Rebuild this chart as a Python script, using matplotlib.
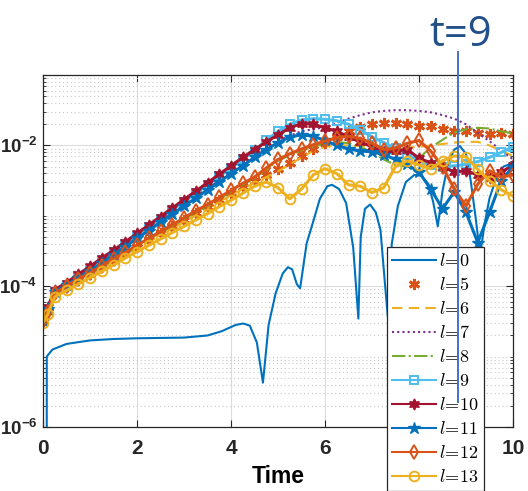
"""
Mode amplitudes vs time on a log axis, MATLAB-style look.
"""
import numpy as np
import matplotlib
matplotlib.use("Agg")
import matplotlib.pyplot as plt
from matplotlib.lines import Line2D

plt.rcParams["mathtext.fontset"] = "custom"
plt.rcParams["mathtext.rm"] = "Liberation Sans:bold"
plt.rcParams["mathtext.bf"] = "Liberation Sans:bold"

# sample times for the marked modes
t = np.concatenate(([0.0, 0.1], np.arange(0.25, 10.01, 0.25)))

# log10 of amplitude
log_l5 = [-4.5, -4.35, -4.1, -4.0, -3.91, -3.82, -3.72, -3.63, -3.53, -3.44, -3.34, -3.25,
          -3.15, -3.06, -2.96, -2.87, -2.77, -2.68, -2.59, -2.5, -2.42, -2.34, -2.25, -2.15,
          -2.05, -1.96, -1.88, -1.8, -1.74, -1.7, -1.68, -1.68, -1.7, -1.72, -1.73, -1.76,
          -1.79, -1.8, -1.82, -1.84, -1.83, -1.84]
log_l6 = [-4.5, -4.37, -4.13, -4.03, -3.94, -3.85, -3.75, -3.66, -3.56, -3.47, -3.37, -3.28,
          -3.18, -3.09, -2.99, -2.9, -2.8, -2.71, -2.62, -2.53, -2.45, -2.37, -2.27, -2.17,
          -2.08, -2.02, -2.0, -2.0, -2.01, -2.02, -2.03, -2.04, -2.03, -2.02, -2.0, -1.98,
          -1.96, -1.95, -1.95, -2.0, -2.08, -2.15]
log_l7 = [-4.5, -4.32, -4.07, -3.97, -3.87, -3.76, -3.65, -3.53, -3.42, -3.3, -3.19, -3.07,
          -2.96, -2.84, -2.73, -2.61, -2.5, -2.38, -2.27, -2.15, -2.04, -1.94, -1.86, -1.8,
          -1.77, -1.74, -1.68, -1.62, -1.57, -1.53, -1.51, -1.5, -1.5, -1.51, -1.53, -1.57,
          -1.62, -1.7, -1.82, -1.94, -2.07, -2.2]
log_l8 = [-4.5, -4.37, -4.12, -4.02, -3.92, -3.83, -3.73, -3.63, -3.54, -3.44, -3.34, -3.24,
          -3.15, -3.05, -2.95, -2.86, -2.76, -2.66, -2.56, -2.47, -2.34, -2.22, -2.14, -2.07,
          -2.02, -1.97, -1.95, -1.97, -2.02, -2.1, -2.2, -2.28, -2.3, -2.18, -2.03, -1.92,
          -1.82, -1.77, -1.75, -1.76, -1.8, -1.83]
log_l9 = [-4.5, -4.32, -4.08, -3.98, -3.86, -3.75, -3.63, -3.52, -3.4, -3.28, -3.16, -3.04,
          -2.92, -2.8, -2.68, -2.56, -2.44, -2.32, -2.2, -2.07, -1.93, -1.8, -1.7, -1.64,
          -1.62, -1.63, -1.65, -1.7, -1.78, -1.88, -1.96, -2.04, -2.13, -2.22, -2.28, -2.3,
          -2.29, -2.27, -2.23, -2.17, -2.1, -2.02]
log_l10 = [-4.48, -4.3, -4.05, -3.95, -3.83, -3.72, -3.6, -3.49, -3.37, -3.25, -3.13, -3.01,
           -2.89, -2.77, -2.65, -2.53, -2.41, -2.29, -2.17, -2.06, -1.95, -1.85, -1.75, -1.69,
           -1.7, -1.75, -1.8, -1.88, -1.95, -2.02, -2.1, -2.08, -2.06, -2.18, -2.25, -2.3,
           -2.38, -2.36, -2.42, -2.46, -2.38, -2.28]
log_l11 = [-4.5, -4.32, -4.08, -3.98, -3.88, -3.78, -3.67, -3.55, -3.44, -3.32, -3.21, -3.09,
           -2.98, -2.86, -2.75, -2.63, -2.52, -2.4, -2.29, -2.17, -2.06, -1.96, -1.88, -1.85,
           -1.87, -1.93, -2.0, -2.05, -2.08, -2.09, -2.13, -2.2, -2.27, -2.38, -2.62, -2.9,
           -2.66, -2.95, -3.38, -2.95, -2.5, -2.3]
log_l12 = [-4.5, -4.36, -4.1, -4.0, -3.9, -3.81, -3.71, -3.61, -3.52, -3.42, -3.32, -3.22,
           -3.13, -3.03, -2.93, -2.84, -2.74, -2.64, -2.54, -2.45, -2.32, -2.2, -2.12, -2.05,
           -1.99, -1.94, -1.89, -1.87, -1.9, -1.97, -2.06, -2.04, -1.97, -1.93, -2.08, -2.3,
           -2.62, -2.86, -2.55, -2.36, -2.45, -2.42]
log_l13 = [-4.52, -4.4, -4.15, -4.06, -3.97, -3.88, -3.79, -3.7, -3.6, -3.51, -3.42, -3.33,
           -3.24, -3.15, -3.06, -2.97, -2.87, -2.78, -2.68, -2.58, -2.52, -2.6, -2.76, -2.62,
           -2.42, -2.33, -2.4, -2.56, -2.58, -2.67, -2.6, -2.3, -2.22, -2.28, -2.33, -2.22,
           -2.15, -2.16, -2.34, -2.5, -2.63, -2.72]

# l=0 has its own (finer) time samples because of the sharp dips
t_l0 = [0.0, 0.08, 0.2, 0.5, 1.0, 1.5, 2.0, 3.0, 3.5, 3.8, 4.1, 4.26, 4.4, 4.55, 4.68, 4.8,
        4.95, 5.1, 5.21, 5.3, 5.4, 5.47, 5.61, 5.75, 5.89, 6.05, 6.15, 6.3, 6.45, 6.6, 6.71,
        6.76, 6.85, 6.96, 7.08, 7.18, 7.28, 7.36, 7.42, 7.55, 7.72, 7.9, 8.05, 8.2, 8.3, 8.4,
        8.5, 8.62, 8.75, 8.87, 9.0, 9.1, 9.2, 9.3, 9.4, 9.5, 9.65, 9.8, 10.0]
log_l0 = [-np.inf, -5.0, -4.9, -4.82, -4.77, -4.75, -4.74, -4.73, -4.7, -4.64, -4.55, -4.53,
          -4.56, -4.8, -5.37, -4.55, -4.1, -3.82, -3.73, -3.76, -3.97, -4.03, -3.39, -3.08,
          -2.76, -2.58, -2.56, -2.62, -2.82, -3.45, -4.46, -3.3, -2.9, -2.84, -2.95, -3.2,
          -4.0, -4.6, -3.4, -2.86, -2.52, -2.42, -2.43, -2.55, -2.8, -3.15, -2.65, -2.25,
          -2.06, -2.01, -2.12, -2.5, -3.0, -3.55, -3.1, -2.75, -2.45, -2.3, -2.25]

labels = [r"$l\!=\!0$", r"$l\!=\!5$", r"$l\!=\!6$", r"$l\!=\!7$", r"$l\!=\!8$",
          r"$l\!=\!9$", r"$l\!=\!10$", r"$l\!=\!11$", r"$l\!=\!12$", r"$l\!=\!13$"]

BLUE, ORANGE, YELLOW = "#0072BD", "#D95319", "#EDB120"
PURPLE, GREEN, CYAN, MAROON = "#7E2F8E", "#77AC30", "#4DBEEE", "#A2142F"

fig = plt.figure(figsize=(5.28, 4.91), dpi=100)
ax = fig.add_axes([43 / 528, 1 - 427 / 491, 470 / 528, 352 / 491])

ax.plot(t_l0, 10.0 ** np.array(log_l0), color=BLUE, lw=1.5, label=labels[0])
ax.plot(t, 10.0 ** np.array(log_l5), ls="none", marker=(6, 2, 0), ms=8, mew=2,
        color=ORANGE, label=labels[1])
ax.plot(t, 10.0 ** np.array(log_l6), ls=(0, (5, 3)), lw=1.5, color=YELLOW, label=labels[2])
ax.plot(t, 10.0 ** np.array(log_l7), ls=(0, (1, 1.5)), lw=1.5, color=PURPLE, label=labels[3])
ax.plot(t, 10.0 ** np.array(log_l8), ls="-.", lw=1.5, color=GREEN, label=labels[4])
ax.plot(t, 10.0 ** np.array(log_l9), marker="s", ms=6, mfc="none", mew=1.4, lw=2.2,
        color=CYAN, label=labels[5])
ax.plot(t, 10.0 ** np.array(log_l10), marker=(6, 1, 0), ms=8, lw=2.2,
        color=MAROON, label=labels[6])
ax.plot(t, 10.0 ** np.array(log_l11), marker="*", ms=9, lw=2.2, color=BLUE, label=labels[7])
ax.plot(t, 10.0 ** np.array(log_l12), marker="d", ms=7, mfc="none", mew=1.4, lw=2.2,
        color=ORANGE, label=labels[8])
ax.plot(t, 10.0 ** np.array(log_l13), marker="o", ms=7, mfc="none", mew=1.4, lw=2.2,
        color=YELLOW, label=labels[9])

ax.set_yscale("log")
ax.set_xlim(0, 10)
ax.set_ylim(1e-6, 1e-1)
ax.set_xticks([0, 2, 4, 6, 8, 10])
ax.set_xticklabels(["0", "2", "4", "6", "8", "10"])
ax.set_yticks([1e-6, 1e-4, 1e-2])
ax.set_yticklabels([r"$\mathbf{10^{-6}}$", r"$\mathbf{10^{-4}}$", r"$\mathbf{10^{-2}}$"])
ax.yaxis.set_minor_locator(matplotlib.ticker.LogLocator(base=10, subs=np.arange(1, 10),
                                                        numticks=20))
ax.yaxis.set_minor_formatter(matplotlib.ticker.NullFormatter())

for lab in ax.get_xticklabels():
    lab.set_fontfamily("Liberation Sans")
    lab.set_fontweight("bold")
    lab.set_fontsize(15)
for lab in ax.get_yticklabels():
    lab.set_fontsize(13.5)

ax.tick_params(which="both", direction="in", top=True, right=True, colors="#262626")
ax.tick_params(which="major", length=5, width=0.8)
ax.tick_params(axis="x", which="major", pad=9)
ax.tick_params(axis="y", which="major", pad=4)
ax.tick_params(which="minor", length=2.5, width=0.6)
ax.grid(True, which="major", color="#dcdcdc", lw=0.8)
ax.grid(True, which="minor", axis="y", color="#c8c8c8", ls=(0, (1, 2.5)), lw=0.8)
ax.set_axisbelow(True)
for s in ax.spines.values():
    s.set_color("#262626")
    s.set_linewidth(0.9)

ax.set_xlabel("Time", fontsize=16.5, fontweight="bold", family="Liberation Sans", labelpad=5)

leg = fig.legend(loc="upper left", bbox_to_anchor=(387 / 528, 1 - 247 / 491),
                 bbox_transform=fig.transFigure, borderaxespad=0,
                 prop={"size": 13, "math_fontfamily": "cm"},
                 fancybox=False, framealpha=1, edgecolor="#262626",
                 handlelength=2.4, handletextpad=0.17, borderpad=0.3, labelspacing=0.33)
leg.get_frame().set_linewidth(0.9)
for ln in leg.get_lines():
    ln.set_linewidth(1.5)

# "t=9" marker overlaid on the figure
fig.text(461 / 528, 1 - 35 / 491, "t=9", ha="center", va="center", fontsize=30,
         color="#24508A", family="Open Sans")
fig.add_artist(Line2D([458 / 528, 458 / 528], [1 - 52 / 491, 1 - 402 / 491],
                      transform=fig.transFigure, color="#4472C4", lw=1.4, zorder=10))

fig.savefig("out.png", dpi=100)
